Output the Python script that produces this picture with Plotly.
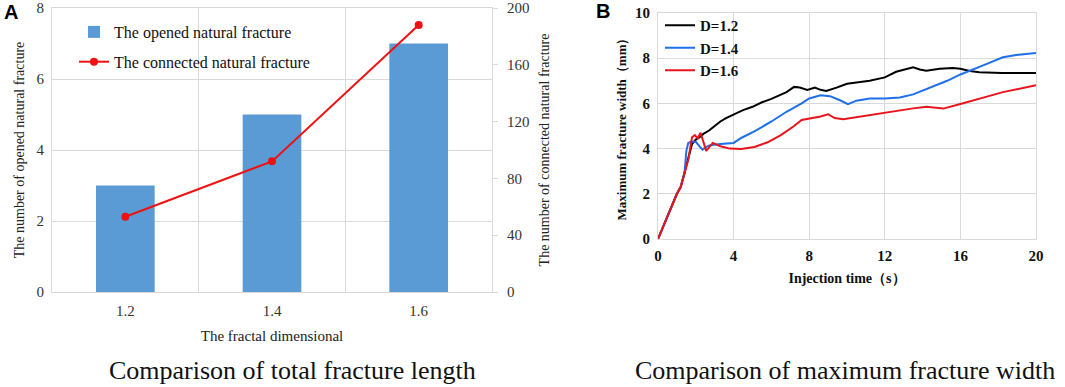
import plotly.graph_objects as go

# ---------------- Panel A data ----------------
fractal_dim = ["1.2", "1.4", "1.6"]
opened_count = [3, 5, 7]
connected_count = [53, 92, 188]

# ---------------- Panel B data ----------------
t_d12 = [0, 0.5, 1.0, 1.2, 1.4, 1.6, 1.8, 2.0, 2.2, 2.4, 2.7, 3.0, 3.3, 3.6, 4.0, 4.5, 5.0, 5.5, 6.0, 6.4,
         6.8, 7.2, 7.5, 7.9, 8.3, 8.6, 8.9, 9.45, 10.0, 10.7, 11.2, 12.0, 12.6, 13.5, 13.85, 14.2, 14.9,
         15.6, 16.0, 16.5, 17.0, 18.2, 19.0, 20.0]
w_d12 = [0, 1.0, 2.0, 2.3, 2.9, 3.6, 4.2, 4.4, 4.5, 4.65, 4.8, 5.0, 5.2, 5.35, 5.5, 5.7, 5.85, 6.05, 6.2, 6.35,
         6.5, 6.73, 6.7, 6.6, 6.7, 6.6, 6.55, 6.7, 6.87, 6.95, 7.0, 7.15, 7.4, 7.6, 7.5, 7.45, 7.53,
         7.57, 7.53, 7.43, 7.38, 7.35, 7.35, 7.35]

t_d14 = [0, 0.5, 1.0, 1.2, 1.4, 1.5, 1.6, 1.75, 2.0, 2.2, 2.35, 2.5, 2.75, 3.3, 4.0, 4.4, 5.1, 6.0, 6.8,
         7.6, 8.0, 8.6, 9.1, 9.6, 10.05, 10.5, 11.2, 12.0, 12.8, 13.5, 14.4, 15.3, 16.0, 16.7, 17.4,
         18.25, 18.95, 20.0]
w_d14 = [0, 1.0, 2.0, 2.3, 2.9, 3.9, 4.25, 4.3, 4.3, 4.1, 3.95, 4.05, 4.15, 4.2, 4.25, 4.47, 4.76, 5.2, 5.63,
         6.0, 6.22, 6.36, 6.32, 6.15, 5.97, 6.12, 6.22, 6.22, 6.26, 6.4, 6.7, 7.0, 7.28, 7.53, 7.75,
         8.04, 8.14, 8.23]

t_d16 = [0, 0.5, 1.0, 1.2, 1.4, 1.6, 1.8, 1.95, 2.1, 2.25, 2.4, 2.55, 2.9, 3.3, 3.8, 4.4, 5.1, 5.8, 6.5,
         7.2, 7.6, 8.1, 8.6, 9.0, 9.35, 9.8, 10.7, 11.4, 12.0, 12.8, 13.5, 14.2, 15.1, 16.0, 16.7, 17.4,
         18.25, 19.1, 20.0]
w_d16 = [0, 1.0, 2.0, 2.3, 2.9, 3.5, 4.5, 4.6, 4.45, 4.7, 4.3, 3.9, 4.25, 4.1, 4.0, 3.98, 4.07, 4.28, 4.6,
         5.0, 5.27, 5.34, 5.42, 5.52, 5.35, 5.3, 5.42, 5.53, 5.6, 5.7, 5.78, 5.85, 5.77, 5.97, 6.12, 6.3,
         6.5, 6.64, 6.8]

W, H = 1065, 387
SERIF = "Liberation Serif"
SANS = "Liberation Sans"
GRID = "#d9d9d9"

fig = go.Figure()

# Panel A
fig.add_trace(go.Bar(x=fractal_dim, y=opened_count, name="The opened natural fracture",
                     marker=dict(color="#5B9BD5", line=dict(width=0)),
                     xaxis="x", yaxis="y", legend="legend", legendgroup="a1"))
fig.add_trace(go.Scatter(x=fractal_dim, y=connected_count, name="The connected natural fracture",
                         mode="lines+markers", line=dict(color="#EE1111", width=2),
                         marker=dict(color="#EE1111", size=8),
                         xaxis="x", yaxis="y2", legend="legend", legendgroup="a2"))

# Panel B
for t, w, name, col in [(t_d12, w_d12, "D=1.2", "#000000"),
                        (t_d14, w_d14, "D=1.4", "#1F6FE8"),
                        (t_d16, w_d16, "D=1.6", "#E8141B")]:
    fig.add_trace(go.Scatter(x=t, y=w, name=name, mode="lines",
                             line=dict(color=col, width=2),
                             xaxis="x3", yaxis="y3", legend="legend2"))

def px_x(p):
    return p / W

def px_y(p):
    return 1 - p / H

fig.update_layout(
    width=W, height=H,
    margin=dict(l=0, r=0, t=0, b=0),
    paper_bgcolor="white", plot_bgcolor="white",
    bargap=0.6,
    showlegend=True,
    xaxis=dict(domain=[px_x(52), px_x(492)], anchor="y", type="category", automargin=False,
               tickson="boundaries", showgrid=True, gridcolor=GRID, gridwidth=1,
               ticks="", showline=True, linecolor=GRID, mirror=True, ticklabelstandoff=5,
               tickfont=dict(family=SERIF, size=15, color="#333"),
               title=dict(text="The fractal dimensional", font=dict(family=SERIF, size=15, color="#222"),
                          standoff=12)),
    yaxis=dict(domain=[px_y(292), px_y(8)], anchor="x", range=[0, 8], dtick=2, automargin=False,
               showgrid=True, gridcolor=GRID, zeroline=False, showline=True, linecolor=GRID, mirror=True,
               ticks="", ticklabelstandoff=4, ticklabeloverflow="allow",
               tickfont=dict(family=SERIF, size=15, color="#333"),
               title=dict(text="The number of opened natural fracture",
                          font=dict(family=SERIF, size=14, color="#222"), standoff=8)),
    yaxis2=dict(overlaying="y", side="right", anchor="x", range=[0, 200], dtick=40, automargin=False,
                showgrid=False, zeroline=False, showline=False,
                ticks="outside", ticklen=5, tickcolor=GRID, ticklabelstandoff=6, ticklabeloverflow="allow",
                tickfont=dict(family=SERIF, size=15, color="#333"),
                title=dict(text="The number of connected natural fracture",
                           font=dict(family=SERIF, size=14, color="#222"), standoff=10)),
    xaxis3=dict(domain=[px_x(658), px_x(1036)], anchor="y3", range=[0, 20], dtick=4, automargin=False,
                showgrid=True, gridcolor=GRID, zeroline=False, showline=True, linecolor=GRID, mirror=True,
                ticks="", ticklabelstandoff=3, ticklabeloverflow="allow",
                tickfont=dict(family=SERIF, size=15, color="#111", weight="bold"),
                title=dict(text="Injection time（s）", font=dict(family=SERIF, size=14, color="#111", weight="bold"),
                           standoff=10)),
    yaxis3=dict(domain=[px_y(239), px_y(13)], anchor="x3", range=[0, 10], dtick=2, automargin=False,
                showgrid=True, gridcolor=GRID, zeroline=False, showline=True, linecolor=GRID, mirror=True,
                ticks="", ticklabelstandoff=4, ticklabeloverflow="allow",
                tickfont=dict(family=SERIF, size=15, color="#111", weight="bold"),
                title=dict(text="Maximum fracture width（mm）",
                           font=dict(family=SERIF, size=13, color="#111", weight="bold"), standoff=5)),
    legend=dict(x=px_x(74), y=px_y(15), xanchor="left", yanchor="top",
                bgcolor="rgba(0,0,0,0)", borderwidth=0, tracegroupgap=6,
                font=dict(family=SERIF, size=16, color="#111")),
    legend2=dict(x=px_x(660), y=px_y(9), xanchor="left", yanchor="top",
                 bgcolor="rgba(0,0,0,0)", borderwidth=0, tracegroupgap=0,
                 font=dict(family=SERIF, size=15, color="#111", weight="bold")),
    annotations=[
        dict(text="<b>A</b>", x=px_x(2), y=px_y(12.5), xref="paper", yref="paper",
             xanchor="left", yanchor="middle", showarrow=False,
             font=dict(family=SANS, size=20, color="#000")),
        dict(text="<b>B</b>", x=px_x(594), y=px_y(11), xref="paper", yref="paper",
             xanchor="left", yanchor="middle", showarrow=False,
             font=dict(family=SANS, size=20, color="#000")),
        dict(text="Comparison of total fracture length", x=px_x(292), y=px_y(370), xref="paper", yref="paper",
             xanchor="center", yanchor="middle", showarrow=False,
             font=dict(family=SERIF, size=26, color="#111")),
        dict(text="Comparison of maximum fracture width", x=px_x(845), y=px_y(370), xref="paper", yref="paper",
             xanchor="center", yanchor="middle", showarrow=False,
             font=dict(family=SERIF, size=26, color="#111")),
    ],
)

# The default HTML page has an 8px body margin; remove it so the figure fills the window.
fig.write_html("out.html", config={"displayModeBar": False},
               post_script="document.body.style.margin='0';")
